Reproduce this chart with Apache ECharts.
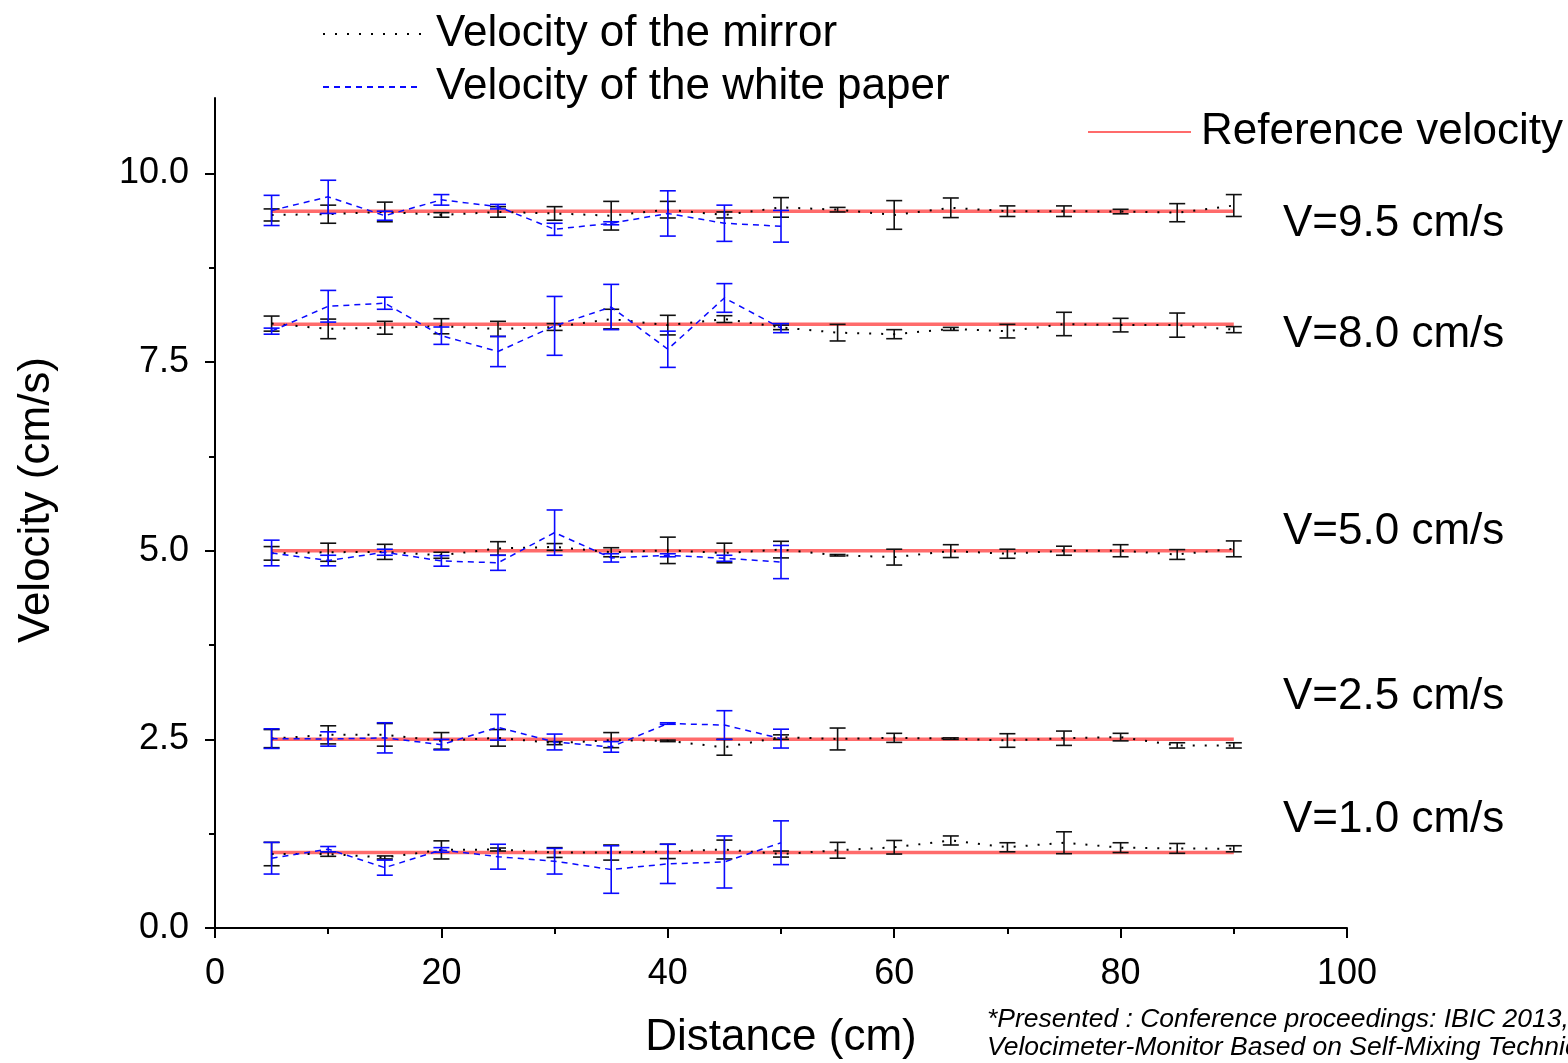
<!DOCTYPE html>
<html>
<head>
<meta charset="utf-8">
<script src="https://cdn.jsdelivr.net/npm/echarts@6/dist/echarts.min.js"></script>
<style>
html,body{margin:0;padding:0;background:#fff;}
#chart{width:1568px;height:1063px;}
</style>
</head>
<body>
<div id="chart"></div>
<script>
// ---- data ----
const distances = [5,10,15,20,25,30,35,40,45,50,55,60,65,70,75,80,85,90];
const paperDistances = [5,10,15,20,25,30,35,40,45,50];
const referenceVelocities = [1.0, 2.5, 5.0, 8.0, 9.5];
const referenceRange = [5, 90];

const mirror95 = [9.45,9.46,9.49,9.45,9.49,9.47,9.44,9.52,9.45,9.55,9.52,9.45,9.545,9.50,9.50,9.495,9.48,9.575];
const mirror95Err = [0.08,0.12,0.13,0.03,0.07,0.09,0.19,0.11,0.04,0.13,0.03,0.19,0.13,0.07,0.07,0.03,0.12,0.145];
const paper95 = [9.51,9.69,9.44,9.65,9.56,9.26,9.34,9.47,9.34,9.30];
const paper95Err = [0.2,0.22,0.06,0.07,0.03,0.08,0.02,0.3,0.24,0.21];

const mirror80 = [8.01,7.94,7.955,7.975,7.94,7.965,8.07,7.99,8.07,7.96,7.89,7.87,7.94,7.91,8.005,7.99,7.99,7.93];
const mirror80Err = [0.1,0.13,0.085,0.1,0.1,0.045,0.13,0.13,0.045,0.03,0.11,0.06,0.02,0.09,0.155,0.09,0.16,0.04];
const paper80 = [7.91,8.24,8.28,7.85,7.64,7.98,8.23,7.67,8.35,7.95];
const paper80Err = [0.04,0.21,0.08,0.115,0.2,0.39,0.3,0.24,0.19,0.06];

const mirror50 = [4.965,4.98,4.985,4.94,5.03,5.05,4.98,5.005,4.97,5.015,4.94,4.915,4.995,4.96,5.0,5.0,4.95,5.025];
const mirror50Err = [0.09,0.12,0.1,0.04,0.09,0.045,0.06,0.175,0.13,0.11,0.01,0.105,0.085,0.06,0.06,0.08,0.065,0.105];
const paper50 = [4.97,4.87,4.98,4.865,4.84,5.24,4.905,4.94,4.90,4.85];
const paper50Err = [0.17,0.07,0.04,0.07,0.1,0.3,0.055,0.02,0.04,0.22];

const mirror25 = [2.51,2.56,2.56,2.48,2.52,2.45,2.49,2.48,2.395,2.53,2.505,2.52,2.51,2.485,2.515,2.53,2.42,2.42];
const mirror25Err = [0.12,0.12,0.15,0.11,0.11,0.02,0.1,0.01,0.105,0.03,0.145,0.06,0.01,0.09,0.095,0.05,0.035,0.035];
const paper25 = [2.51,2.505,2.52,2.43,2.66,2.465,2.40,2.71,2.69,2.51];
const paper25Err = [0.13,0.095,0.2,0.07,0.17,0.105,0.07,0.01,0.19,0.125];

const mirror10 = [0.98,0.98,0.935,1.035,1.04,1.0,1.0,1.015,1.04,0.98,1.03,1.07,1.16,1.07,1.13,1.065,1.055,1.05];
const mirror10Err = [0.155,0.03,0.02,0.12,0.02,0.065,0.1,0.095,0.125,0.04,0.105,0.09,0.06,0.06,0.145,0.065,0.065,0.04];
const paper10 = [0.925,1.045,0.80,1.035,0.945,0.885,0.775,0.85,0.875,1.13];
const paper10Err = [0.21,0.035,0.1,0.03,0.165,0.17,0.315,0.26,0.345,0.29];

const groupLabels = ['V=9.5 cm/s','V=8.0 cm/s','V=5.0 cm/s','V=2.5 cm/s','V=1.0 cm/s'];
const yMajorTicks = [0, 2.5, 5, 7.5, 10];
const yMinorTicks = [1.25, 3.75, 6.25, 8.75];

const mirrorGroups = [[mirror95,mirror95Err],[mirror80,mirror80Err],[mirror50,mirror50Err],[mirror25,mirror25Err],[mirror10,mirror10Err]];
const paperGroups = [[paper95,paper95Err],[paper80,paper80Err],[paper50,paper50Err],[paper25,paper25Err],[paper10,paper10Err]];

const FONT = '"Liberation Sans", Arial, Helvetica, sans-serif';
const MIRROR_NAME = 'Velocity of the mirror';
const PAPER_NAME = 'Velocity of the white paper';
const REF_NAME = 'Reference velocity';
const BLACK = '#000000';
const BLUE = '#0a0aff';
const RED = '#ff6b6b';

function errRender(color){
  return function(params, api){
    const x = api.value(0), lo = api.value(1), hi = api.value(2);
    const p1 = api.coord([x, lo]), p2 = api.coord([x, hi]);
    const w = 8;
    const st = {stroke: color, lineWidth: 1.6};
    return {type:'group', children:[
      {type:'line', shape:{x1:p1[0],y1:p1[1],x2:p2[0],y2:p2[1]}, style:st},
      {type:'line', shape:{x1:p1[0]-w,y1:p1[1],x2:p1[0]+w,y2:p1[1]}, style:st},
      {type:'line', shape:{x1:p2[0]-w,y1:p2[1],x2:p2[0]+w,y2:p2[1]}, style:st}
    ]};
  };
}

const series = [];
referenceVelocities.forEach(v => {
  series.push({
    name: REF_NAME, type:'line', symbol:'none', z:1,
    data: referenceRange.map(d => [d, v]),
    lineStyle:{color:RED, width:3.5}, itemStyle:{color:RED}, silent:true
  });
});
mirrorGroups.forEach(([vals, errs]) => {
  series.push({
    name: MIRROR_NAME, type:'line', symbol:'none', z:2,
    data: distances.map((d,i)=>[d, vals[i]]),
    lineStyle:{color:BLACK, width:2, type:[2,10]}, itemStyle:{color:BLACK}
  });
  series.push({
    type:'custom', z:2, renderItem: errRender('#111'),
    data: distances.map((d,i)=>[d, vals[i]-errs[i], vals[i]+errs[i]]),
    encode:{x:0, y:[1,2]}, silent:true
  });
});
paperGroups.forEach(([vals, errs]) => {
  series.push({
    name: PAPER_NAME, type:'line', symbol:'none', z:3,
    data: paperDistances.map((d,i)=>[d, vals[i]]),
    lineStyle:{color:BLUE, width:1.5, type:[6,5]}, itemStyle:{color:BLUE}
  });
  series.push({
    type:'custom', z:3, renderItem: errRender(BLUE),
    data: paperDistances.map((d,i)=>[d, vals[i]-errs[i], vals[i]+errs[i]]),
    encode:{x:0, y:[1,2]}, silent:true
  });
});

const labelTops = [224, 335, 532, 697, 820];

const option = {
  backgroundColor:'#fff',
  animation:false,
  grid:{left:215, right:221, top:98, bottom:135, containLabel:false, outerBoundsMode:'none'},
  legend:[
    {data:[MIRROR_NAME, PAPER_NAME], orient:'vertical', left:317, top:7, itemWidth:98, itemHeight:14, itemGap:9,
     itemStyle:{opacity:0},
     textStyle:{fontSize:44, fontFamily:FONT, color:'#000', padding:[0,0,0,10]}, selectedMode:false},
    {data:[REF_NAME], left:1082, top:105, itemWidth:103, itemHeight:14,
     itemStyle:{opacity:0},
     textStyle:{fontSize:44, fontFamily:FONT, color:'#000', padding:[0,0,0,5]}, selectedMode:false}
  ],
  xAxis:{type:'value', min:0, max:100, interval:20,
    name:'Distance (cm)', nameLocation:'middle', nameGap:88,
    nameTextStyle:{fontSize:44, fontFamily:FONT, color:'#000'},
    axisLine:{show:true, lineStyle:{color:'#000', width:2}},
    axisTick:{show:true, inside:false, length:10, lineStyle:{color:'#000', width:2}},
    minorTick:{show:true, splitNumber:2, length:6, lineStyle:{color:'#000', width:2}},
    axisLabel:{fontSize:36, fontFamily:FONT, color:'#000', margin:28},
    splitLine:{show:false}
  },
  yAxis:[
    {type:'value', min:0, max:11,
      axisLine:{show:true, lineStyle:{color:'#000', width:2}},
      axisTick:{show:true, inside:false, length:10, lineStyle:{color:'#000', width:2}, customValues: yMajorTicks},
      axisLabel:{fontSize:36, fontFamily:FONT, color:'#000', margin:26, customValues: yMajorTicks,
        formatter: v => v.toFixed(1)},
      splitLine:{show:false}
    },
    {type:'value', min:0, max:11, position:'left',
      axisLine:{show:false},
      axisTick:{show:true, inside:false, length:6, lineStyle:{color:'#000', width:2}, customValues: yMinorTicks},
      axisLabel:{show:false},
      splitLine:{show:false}
    }
  ],
  graphic:[
    {type:'text', x:37, y:500, rotation:Math.PI/2,
     style:{text:'Velocity (cm/s)', fontSize:44, fontFamily:FONT, fill:'#000', align:'center', verticalAlign:'middle'}},
    ...groupLabels.map((t,i)=>({type:'text', x:1283, y:labelTops[i],
      style:{text:t, fontSize:44, fontFamily:FONT, fill:'#000', align:'left', verticalAlign:'middle'}})),
    {type:'text', x:987, y:1006,
     style:{text:'*Presented : Conference proceedings: IBIC 2013,\nVelocimeter-Monitor Based on Self-Mixing Technique',
       fontSize:26.5, fontStyle:'italic', fontFamily:FONT, fill:'#000', lineHeight:28, align:'left', verticalAlign:'top'}}
  ],
  series: series
};

const chart = echarts.init(document.getElementById('chart'), null, {renderer:'canvas'});
chart.setOption(option);
</script>
</body>
</html>
